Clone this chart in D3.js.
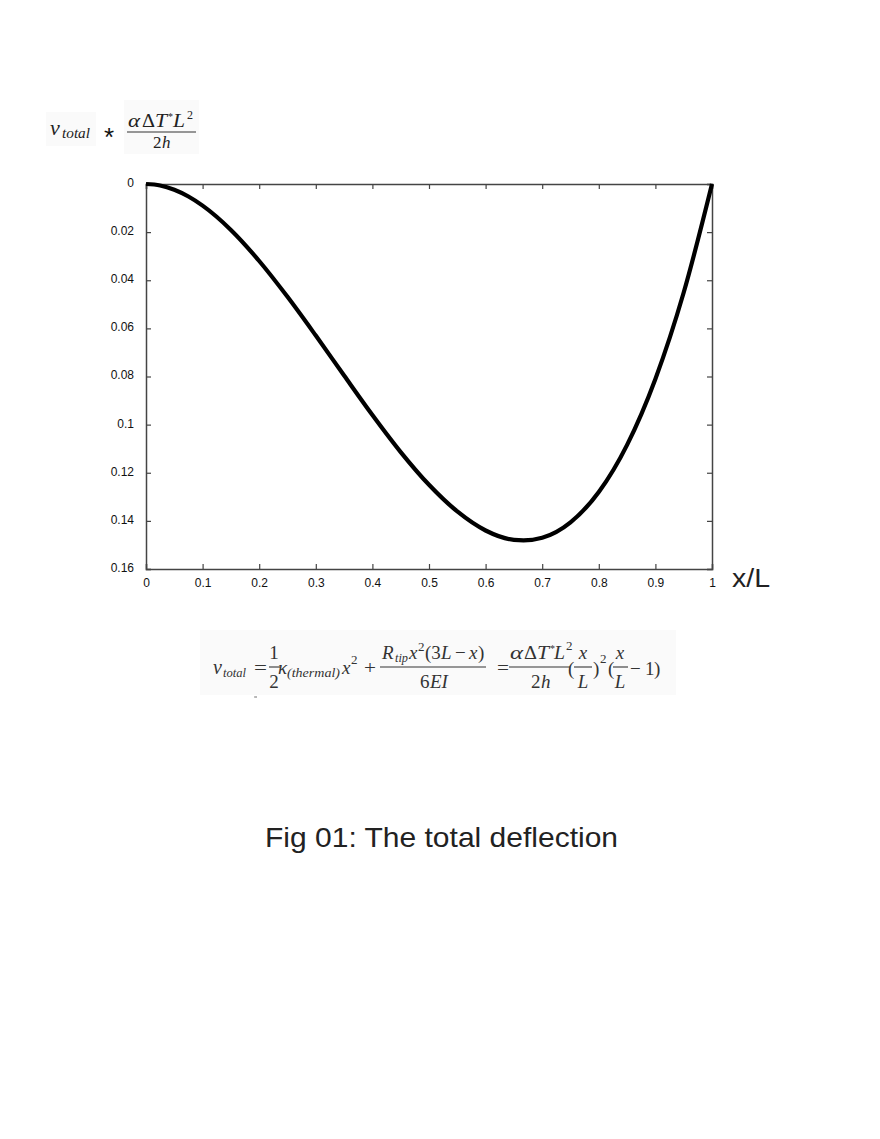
<!DOCTYPE html>
<html><head><meta charset="utf-8">
<script src="https://cdn.jsdelivr.net/npm/d3@7"></script>
<style>body{margin:0;background:#fff}</style>
</head><body>
<svg id="c" width="880" height="1139"></svg>
<script>
// Data
const xValues = [0,0.025,0.05,0.075,0.1,0.15,0.2,0.25,0.3,0.35,0.4,0.45,0.5,0.55,0.6,0.65,0.667,0.7,0.75,0.8,0.85,0.9,0.95,1];
const deflection = [0,0.0006,0.0024,0.0052,0.009,0.0191,0.032,0.0469,0.063,0.0796,0.096,0.1114,0.125,0.1361,0.144,0.1479,0.1481,0.147,0.1406,0.128,0.1084,0.081,0.0451,0];
const xTicks = [0,0.1,0.2,0.3,0.4,0.5,0.6,0.7,0.8,0.9,1];
const yTicks = [0,0.02,0.04,0.06,0.08,0.1,0.12,0.14,0.16];
const xTickLabels = ["0","0.1","0.2","0.3","0.4","0.5","0.6","0.7","0.8","0.9","1"];
const yTickLabels = ["0","0.02","0.04","0.06","0.08","0.1","0.12","0.14","0.16"];

const svg = d3.select("#c");
const L = 146, R = 712, T = 184, B = 569;
const x = d3.scaleLinear().domain([0,1]).range([L,R]);
const y = d3.scaleLinear().domain([0,0.16]).range([T,B]);
const sans = "'Liberation Sans', Arial, Helvetica, sans-serif";
const serif = "'Liberation Serif', 'DejaVu Serif', serif";
const axCol = "#444";

// axes with inward ticks
const gB = svg.append("g").attr("transform",`translate(0,${B})`)
  .call(d3.axisBottom(x).tickValues(xTicks).tickSize(-5).tickPadding(9).tickFormat((d,i)=>xTickLabels[i]));
const gT = svg.append("g").attr("transform",`translate(0,${T})`)
  .call(d3.axisTop(x).tickValues(xTicks).tickSize(-5).tickFormat(""));
const gL = svg.append("g").attr("transform",`translate(${L},0)`)
  .call(d3.axisLeft(y).tickValues(yTicks).tickSize(-5).tickPadding(12).tickFormat((d,i)=>yTickLabels[i]));
const gR = svg.append("g").attr("transform",`translate(${R},0)`)
  .call(d3.axisRight(y).tickValues(yTicks).tickSize(-5).tickFormat(""));
[gB,gT,gL,gR].forEach(g=>{
  g.select(".domain").attr("stroke",axCol).attr("stroke-width",1.5);
  g.selectAll(".tick line").attr("stroke",axCol).attr("stroke-width",1.2);
  g.selectAll("text").attr("font-family",sans).attr("font-size",12).attr("fill","#111");
});
gL.selectAll(".tick text").attr("dy","0.2em");
gB.selectAll(".tick text").attr("dy","0.75em");

// curve
const pts = xValues.map((v,i)=>[v,deflection[i]]);
svg.append("path").datum(pts)
  .attr("fill","none").attr("stroke","#000").attr("stroke-width",4.2)
  .attr("stroke-linejoin","round")
  .attr("d", d3.line().x(d=>x(d[0])).y(d=>y(d[1])).curve(d3.curveMonotoneX));

// x/L label
svg.append("text").attr("x",732).attr("y",587).attr("font-family",sans).attr("font-size",26)
  .attr("textLength",38).attr("lengthAdjust","spacingAndGlyphs").attr("fill","#222").text("x/L");

// helper for math text pieces
function t(g, str, px, py, opt={}) {
  const e = g.append("text").attr("x",px).attr("y",py).text(str);
  if (opt.it) e.attr("font-style","italic");
  if (opt.size) e.attr("font-size",opt.size);
  if (opt.anchor) e.attr("text-anchor",opt.anchor);
  if (opt.len) e.attr("textLength",opt.len).attr("lengthAdjust","spacingAndGlyphs");
  return e;
}
function bar(g, x1, x2, yy) {
  g.append("line").attr("x1",x1).attr("x2",x2).attr("y1",yy).attr("y2",yy).attr("stroke","#333").attr("stroke-width",1.1);
}

// Top-left math label
svg.append("rect").attr("x",46).attr("y",112).attr("width",50).attr("height",34).attr("fill","#fafafa");
svg.append("rect").attr("x",124).attr("y",100).attr("width",75).attr("height",54).attr("fill","#fafafa");
const mt = svg.append("g").attr("font-family",serif).attr("fill","#222").attr("font-size",18);
t(mt,"v",50,135,{it:1,size:22});
t(mt,"total",62,138,{it:1,size:14,len:28});
svg.append("text").attr("x",104).attr("y",146).attr("font-family",sans).attr("font-size",26).attr("fill","#111").text("*");
t(mt,"α",128,127,{it:1,len:12});
t(mt,"Δ",142,127,{len:13});
t(mt,"T",155,127,{it:1,len:12});
t(mt,"*",168,120,{size:10});
t(mt,"L",173,127,{it:1,len:12});
t(mt,"2",187,119,{size:12});
bar(mt,127,196,132);
t(mt,"2",153,148,{size:17});
t(mt,"h",162,148,{it:1,size:17});

// Equation below
svg.append("rect").attr("x",200).attr("y",630).attr("width",476).attr("height",65).attr("fill","#fafafa");
svg.append("line").attr("x1",254).attr("x2",257).attr("y1",697).attr("y2",697).attr("stroke","#888").attr("stroke-width",1.2);
const eq = svg.append("g").attr("font-family",serif).attr("fill","#333").attr("font-size",19);
t(eq,"v",213,674,{it:1,size:20});
t(eq,"total",223,677,{it:1,size:13,len:23});
t(eq,"=",254,674,{len:13});
t(eq,"1",274,659,{anchor:"middle"});
bar(eq,269,280,667);
t(eq,"2",274,688,{anchor:"middle"});
t(eq,"κ",278,674,{it:1});
t(eq,"(thermal)",287,677,{it:1,size:13,len:53});
t(eq,"x",342,674,{it:1});
t(eq,"2",351,664,{size:13});
t(eq,"+",364,674,{len:12});
t(eq,"R",382,659,{it:1});
t(eq,"tip",395,662,{it:1,size:12,len:13});
t(eq,"x",409,659,{it:1});
t(eq,"2",418,651,{size:13});
t(eq,"(3",425,659);
t(eq,"L",441,659,{it:1});
t(eq,"−",455,659);
t(eq,"x",469,659,{it:1});
t(eq,")",478,659);
bar(eq,380,486,667);
t(eq,"6",420,688);
t(eq,"EI",430,688,{it:1});
t(eq,"=",497,674,{len:12});
t(eq,"α",510,659,{it:1,len:13});
t(eq,"Δ",524,659,{len:13});
t(eq,"T",537,659,{it:1,len:12});
t(eq,"*",550,652,{size:10});
t(eq,"L",554,659,{it:1,len:11});
t(eq,"2",566,650,{size:13});
bar(eq,509,570,667);
t(eq,"2",531,688);
t(eq,"h",541,688,{it:1});
t(eq,"(",568,675);
t(eq,"x",583,659,{it:1,anchor:"middle"});
bar(eq,574,592,667);
t(eq,"L",583,688,{it:1,anchor:"middle"});
t(eq,")",593,675);
t(eq,"2",600,663,{size:13});
t(eq,"(",608,675);
t(eq,"x",620,659,{it:1,anchor:"middle"});
bar(eq,613,628,667);
t(eq,"L",620,688,{it:1,anchor:"middle"});
t(eq,"−",630,675);
t(eq,"1",645,675);
t(eq,")",654,675);

// Caption
svg.append("text").attr("x",265).attr("y",847)
  .attr("font-family",sans).attr("font-size",28).attr("textLength",353).attr("lengthAdjust","spacingAndGlyphs")
  .attr("fill","#222").text("Fig 01: The total deflection");
</script>
</body></html>
